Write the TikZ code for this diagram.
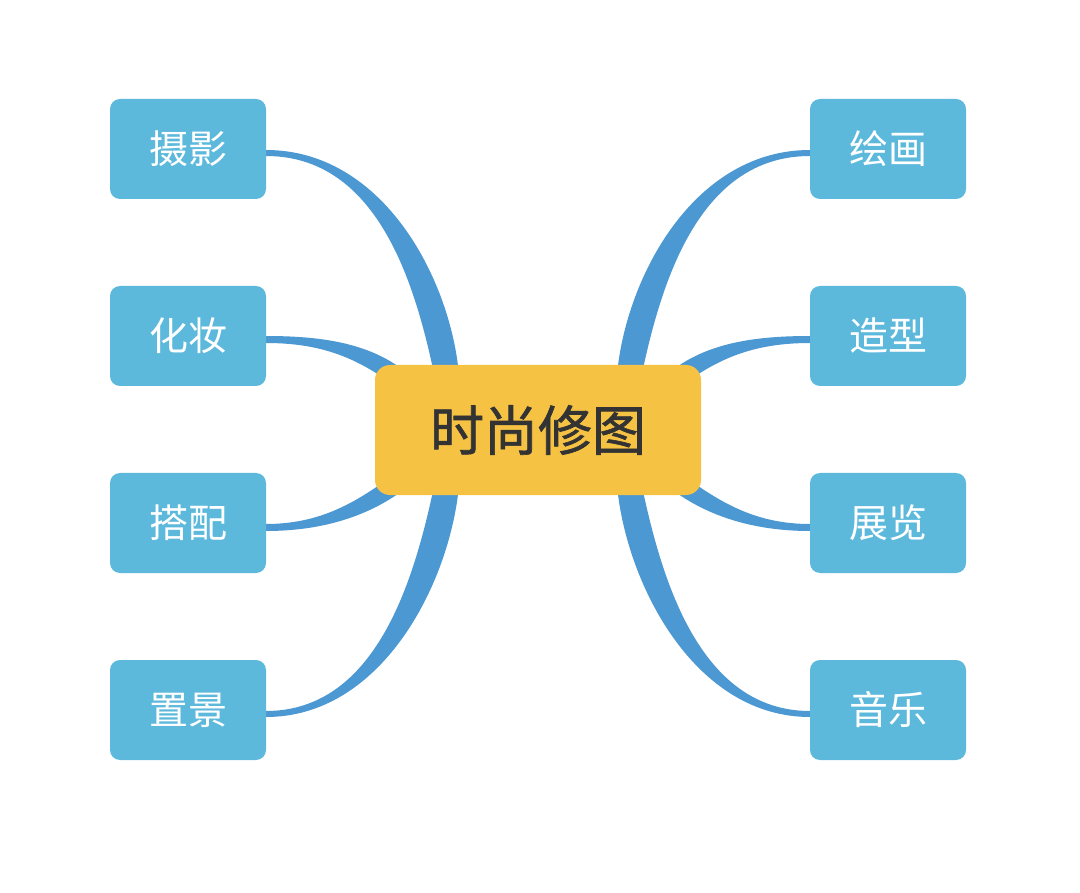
\documentclass[tikz,border=0pt]{standalone}
\usepackage{fontspec}
\newfontfamily\cjk{Noto Sans CJK SC}
\newfontfamily\cjkhub[FakeBold=1.2]{Noto Sans CJK SC}
\usetikzlibrary{calc}
\definecolor{leafblue}{HTML}{5DB9DC}
\definecolor{linkblue}{HTML}{4C98D2}
\definecolor{centeryellow}{HTML}{F5C243}
\definecolor{centertext}{HTML}{333333}
\tikzset{
  leaf/.style={fill=leafblue, rounded corners=10pt, minimum width=156pt, minimum height=100pt,
    inner sep=0pt, text=white, font=\cjk\fontsize{39}{39}\selectfont},
  hub/.style={fill=centeryellow, rounded corners=15pt, minimum width=326pt, minimum height=130pt,
    inner sep=0pt, text=centertext, font=\cjkhub\fontsize{54}{54}\selectfont},
  link/.style={fill=linkblue, draw=none}
}
% #1 = x sign, #2 = y sign (relative to hub centre), #3 = y shift of the leaf end
\newcommand\biglink[3]{%
  \fill[link] ($(hubc)+({#1*(-272)},{#2*(-280)+#3})$)
    .. controls ($(hubc)+({#1*(-158)},{#2*(-280)+#3})$) and ($(hubc)+({#1*(-91)},{#2*(-158)})$)
    .. ($(hubc)+({#1*(-79.7)},{#2*(-62.1)})$)
    -- ($(hubc)+({#1*(-104.3)},{#2*(-57.9)})$)
    .. controls ($(hubc)+({#1*(-124)},{#2*(-150)})$) and ($(hubc)+({#1*(-162)},{#2*(-274)+#3})$)
    .. ($(hubc)+({#1*(-272)},{#2*(-274)+#3})$) -- cycle;}
\newcommand\smalllink[3]{%
  \fill[link] ($(hubc)+({#1*(-272)},{#2*(-94)+#3})$)
    .. controls ($(hubc)+({#1*(-218)},{#2*(-94)+#3})$) and ($(hubc)+({#1*(-172.8)},{#2*(-87.3)})$)
    .. ($(hubc)+({#1*(-137.8)},{#2*(-62.3)})$)
    -- ($(hubc)+({#1*(-148.2)},{#2*(-47.7)})$)
    .. controls ($(hubc)+({#1*(-183.2)},{#2*(-72.7)})$) and ($(hubc)+({#1*(-218)},{#2*(-87)+#3})$)
    .. ($(hubc)+({#1*(-272)},{#2*(-87)+#3})$) -- cycle;}
\begin{document}
\begin{tikzpicture}[x=1pt,y=-1pt]
\useasboundingbox (0,0) rectangle (1080,893);
\fill[white] (0,0) rectangle (1080,893);
\coordinate (hubc) at (538,430);
% links
\biglink{1}{1}{0}
\biglink{1}{-1}{7}
\biglink{-1}{1}{0}
\biglink{-1}{-1}{7}
\smalllink{1}{1}{0}
\smalllink{1}{-1}{7}
\smalllink{-1}{1}{0}
\smalllink{-1}{-1}{7}
% leaves
\node[leaf] (sheying) at (188,149) {\raisebox{-2pt}{摄影}};
\node[leaf] (huazhuang) at (188,336) {\raisebox{-2pt}{化妆}};
\node[leaf] (dapei) at (188,523) {\raisebox{-2pt}{搭配}};
\node[leaf] (zhijing) at (188,710) {\raisebox{-2pt}{置景}};
\node[leaf] (huihua) at (888,149) {\raisebox{-2pt}{绘画}};
\node[leaf] (zaoxing) at (888,336) {\raisebox{-2pt}{造型}};
\node[leaf] (zhanlan) at (888,523) {\raisebox{-2pt}{展览}};
\node[leaf] (yinyue) at (888,710) {\raisebox{-2pt}{音乐}};
% hub
\node[hub] (hub) at (hubc) {\raisebox{-2pt}{时尚修图}};
\end{tikzpicture}
\end{document}
